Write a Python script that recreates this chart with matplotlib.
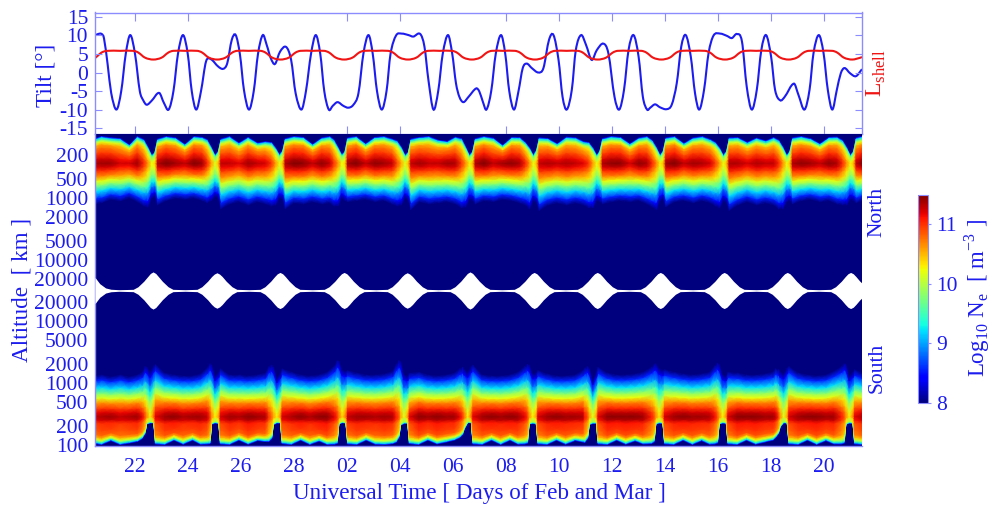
import numpy as np
import matplotlib
matplotlib.use("Agg")
import matplotlib.pyplot as plt
from matplotlib.path import Path
from matplotlib.patches import PathPatch

plt.rcParams['font.family'] = ['Liberation Serif', 'DejaVu Serif']
plt.rcParams['mathtext.fontset'] = 'custom'
plt.rcParams['mathtext.rm'] = 'Liberation Serif'

# -------------------------------
# Data (days counted from 0 Feb)
# -------------------------------
day_ticks = [22, 24, 26, 28, 30, 32, 34, 36, 38, 40, 42, 44, 46, 48]
day_labels = ['22', '24', '26', '28', '02', '04', '06', '08', '10', '12', '14', '16', '18', '20']
top_ticks = [22, 24, 30, 32, 36, 38, 40, 42, 44, 46, 48]

tilt_ticks = [-15, -10, -5, 0, 5, 10, 15]
tilt_labels = ['-15', '-10', '-5', '0', '5', '10', '15']
north_ticks = [200, 500, 1000, 2000, 5000, 10000, 20000]
south_ticks = [20000, 10000, 5000, 2000, 1000, 500, 200, 100]

tilt_days = [
    20.50, 20.62, 20.75, 20.84, 20.98, 21.11, 21.31, 21.49, 21.66, 21.83, 22.01, 22.19, 22.32, 22.45, 22.64,
    22.92, 23.10, 23.28, 23.46, 23.63, 23.82, 24.00, 24.15, 24.32, 24.50, 24.69, 24.87, 25.15, 25.34, 25.49,
    25.66, 25.81, 25.97, 26.12, 26.31, 26.49, 26.65, 26.83, 26.98, 27.13, 27.29, 27.48, 27.71, 27.90, 28.07,
    28.29, 28.46, 28.65, 28.83, 29.00, 29.15, 29.32, 29.47, 29.65, 29.87, 30.06, 30.25, 30.44, 30.63, 30.82,
    30.98, 31.14, 31.32, 31.50, 31.65, 31.86, 32.07, 32.33, 32.51, 32.77, 32.93, 33.08, 33.27, 33.45, 33.62,
    33.82, 33.98, 34.12, 34.25, 34.40, 34.59, 34.88, 35.00, 35.13, 35.27, 35.45, 35.62, 35.82, 35.98, 36.13,
    36.31, 36.48, 36.64, 36.79, 36.98, 37.23, 37.42, 37.63, 37.80, 37.99, 38.14, 38.30, 38.49, 38.64, 38.84,
    39.03, 39.24, 39.43, 39.68, 39.87, 40.10, 40.28, 40.46, 40.63, 40.82, 41.01, 41.17, 41.33, 41.45, 41.63,
    41.82, 42.07, 42.26, 42.45, 42.62, 42.79, 42.98, 43.14, 43.30, 43.48, 43.65, 43.84, 44.09, 44.34, 44.53,
    44.72, 44.91, 45.09, 45.28, 45.47, 45.64, 45.82, 46.01, 46.16, 46.35, 46.52, 46.87, 47.04, 47.27, 47.46,
    47.61, 47.81, 47.99, 48.15, 48.32, 48.49, 48.64, 48.78, 48.99, 49.21, 49.44]
tilt_deg = [
    10.0, 10.4, 10.4, 9.2, 2.0, -5.5, -10.0, -5.0, 5.0, 10.1, 5.0, -5.0, -7.5, -8.7, -7.6,
    -5.5, -8.2, -10.0, -5.0, 5.0, 10.1, 5.0, -5.0, -10.0, -5.0, 3.0, 3.6, 1.6, 1.0, 2.5,
    8.8, 10.1, 4.8, -4.7, -10.0, -5.0, 5.0, 10.1, 7.4, 3.9, 2.3, 5.6, 6.9, 3.4, -5.6,
    -10.0, -5.0, 5.0, 10.1, 5.0, -5.0, -10.0, -9.0, -8.0, -9.0, -9.5, -8.7, -5.6, 5.2, 10.1,
    5.0, -5.0, -10.0, -5.0, 5.0, 10.0, 10.5, 10.1, 9.7, 10.4, 7.0, -2.0, -10.0, -5.0, 5.0,
    10.1, 5.0, -2.9, -6.6, -8.0, -6.6, -4.3, -5.1, -7.8, -10.0, -5.0, 5.0, 10.1, 5.0, -5.0,
    -10.0, -5.0, 1.2, 2.4, 1.2, 0.0, 1.2, 8.8, 10.1, 3.4, -6.5, -10.0, -4.7, 6.0, 10.1,
    7.4, 3.4, 6.0, 7.8, 5.2, -6.5, -10.0, -4.7, 6.0, 10.1, 4.3, -6.5, -10.0, -9.5, -8.6,
    -9.4, -9.9, -8.7, -2.9, 7.0, 10.1, 4.3, -5.6, -10.0, -4.7, 5.2, 10.0, 10.5, 9.9, 9.3,
    10.4, 8.4, -3.8, -10.0, -4.7, 6.0, 10.1, 4.3, -4.7, -7.5, -6.6, -3.0, -6.0, -10.0, -4.7,
    5.2, 10.1, 5.2, -4.7, -10.0, -4.7, -0.2, 1.2, -0.2, -1.0, 0.9]

lshell_days = [
    20.50, 20.60, 20.75, 20.95, 21.45,
    21.95, 22.13, 22.39, 22.70, 23.01, 23.27, 23.45, 23.90,
    24.36, 24.54, 24.80, 25.11, 25.42, 25.68, 25.86, 26.30,
    26.75, 26.93, 27.19, 27.50, 27.81, 28.07, 28.25, 28.70,
    29.15, 29.33, 29.59, 29.90, 30.21, 30.47, 30.65, 31.10,
    31.56, 31.74, 32.00, 32.31, 32.62, 32.88, 33.06, 33.50,
    33.97, 34.15, 34.41, 34.72, 35.03, 35.29, 35.47, 35.90,
    36.35, 36.53, 36.79, 37.10, 37.41, 37.67, 37.85, 38.30,
    38.72, 38.90, 39.16, 39.47, 39.78, 40.04, 40.22, 40.65,
    41.12, 41.30, 41.56, 41.87, 42.18, 42.44, 42.62, 43.05,
    43.52, 43.70, 43.96, 44.27, 44.58, 44.84, 45.02, 45.45,
    45.92, 46.10, 46.36, 46.67, 46.98, 47.24, 47.42, 47.85,
    48.32, 48.50, 48.76, 49.07, 49.38, 49.44]
lshell_val = [
    3.9, 4.5, 5.4, 5.85, 5.85,
    5.85, 5.4, 4.0, 3.5, 4.0, 5.4, 5.85, 5.85,
    5.85, 5.4, 4.0, 3.5, 4.0, 5.4, 5.85, 5.85,
    5.85, 5.4, 4.0, 3.5, 4.0, 5.4, 5.85, 5.85,
    5.85, 5.4, 4.0, 3.5, 4.0, 5.4, 5.85, 5.85,
    5.85, 5.4, 4.0, 3.5, 4.0, 5.4, 5.85, 5.85,
    5.85, 5.4, 4.0, 3.5, 4.0, 5.4, 5.85, 5.85,
    5.85, 5.4, 4.0, 3.5, 4.0, 5.4, 5.85, 5.85,
    5.85, 5.4, 4.0, 3.5, 4.0, 5.4, 5.85, 5.85,
    5.85, 5.4, 4.0, 3.5, 4.0, 5.4, 5.85, 5.85,
    5.85, 5.4, 4.0, 3.5, 4.0, 5.4, 5.85, 5.85,
    5.85, 5.4, 4.0, 3.5, 4.0, 5.4, 5.85, 5.85,
    5.85, 5.4, 4.0, 3.5, 4.0, 4.2]

# northern band: outer edges in km and peak log10 Ne per time
north_days = [
    20.50, 20.75, 21.10, 21.45, 21.80, 22.10,
    22.34, 22.50, 22.64, 22.76, 22.86, 23.19, 23.54, 23.89, 24.24, 24.54,
    24.73, 24.89, 25.03, 25.15, 25.25, 25.58, 25.93, 26.28, 26.63, 26.93,
    27.16, 27.32, 27.46, 27.58, 27.68, 28.01, 28.36, 28.71, 29.06, 29.36,
    29.51, 29.67, 29.81, 29.93, 30.03, 30.36, 30.71, 31.06, 31.41, 31.71,
    31.90, 32.06, 32.20, 32.32, 32.42, 32.75, 33.10, 33.45, 33.80, 34.10,
    34.33, 34.49, 34.63, 34.75, 34.85, 35.18, 35.53, 35.88, 36.23, 36.53,
    36.74, 36.90, 37.04, 37.16, 37.26, 37.59, 37.94, 38.29, 38.64, 38.94,
    39.13, 39.29, 39.43, 39.55, 39.65, 39.98, 40.33, 40.68, 41.03, 41.33,
    41.52, 41.68, 41.82, 41.94, 42.04, 42.37, 42.72, 43.07, 43.42, 43.72,
    43.91, 44.07, 44.21, 44.33, 44.43, 44.76, 45.11, 45.46, 45.81, 46.11,
    46.30, 46.46, 46.60, 46.72, 46.82, 47.15, 47.50, 47.85, 48.20, 48.50,
    48.70, 48.86, 49.00, 49.12, 49.22, 49.44]
north_base_km = [
    108, 100, 105, 108, 138, 100,
    112, 150, 205, 180, 110, 100, 105, 135, 100, 103,
    112, 150, 205, 175, 110, 100, 128, 103, 128, 122,
    125, 155, 200, 170, 108, 100, 103, 135, 105, 100,
    112, 150, 200, 175, 105, 100, 132, 103, 100, 110,
    118, 150, 205, 180, 110, 103, 100, 115, 120, 102,
    108, 150, 205, 175, 108, 100, 106, 140, 103, 104,
    125, 155, 205, 165, 105, 108, 132, 102, 105, 122,
    125, 155, 205, 170, 108, 100, 103, 132, 105, 100,
    115, 150, 205, 170, 105, 100, 130, 105, 100, 112,
    125, 155, 205, 172, 105, 104, 125, 106, 118, 104,
    115, 150, 205, 172, 105, 100, 108, 132, 103, 102,
    115, 150, 205, 172, 105, 100]
north_top_km = [
    1250, 1200, 1050, 1120, 1000, 1150,
    1350, 1400, 1000, 950, 1300, 1100, 1000, 1050, 1000, 1100,
    1200, 1100, 950, 1000, 1500, 1250, 1150, 1300, 1150, 1250,
    1350, 1300, 1000, 1050, 1500, 1200, 1250, 1150, 1250, 1200,
    1350, 1350, 1000, 1100, 1150, 1100, 1050, 1150, 1100, 1250,
    1350, 1300, 1000, 1100, 1550, 1150, 1250, 1200, 1150, 1250,
    1450, 1400, 1050, 1100, 1250, 1100, 1150, 1050, 1100, 1200,
    1300, 1500, 1100, 1200, 1600, 1300, 1200, 1300, 1200, 1300,
    1450, 1450, 1100, 1150, 1250, 1150, 1100, 1150, 1100, 1250,
    1400, 1550, 1100, 1050, 1400, 1150, 1100, 1200, 1100, 1200,
    1350, 1450, 1100, 1200, 1600, 1300, 1150, 1300, 1200, 1300,
    1500, 1500, 1150, 1100, 1250, 1100, 1050, 1150, 1100, 1250,
    1300, 1300, 1050, 1100, 1200, 1100]
north_peak = [
    11.35, 11.4, 11.4, 11.25, 11.25, 11.4,
    11.05, 10.65, 10.25, 10.4, 11.35, 11.5, 11.4, 11.3, 11.5, 11.4,
    11.05, 10.6, 10.2, 10.5, 11.3, 11.3, 11.2, 11.4, 11.3, 11.25,
    11.0, 10.6, 10.25, 10.5, 11.35, 11.5, 11.45, 11.3, 11.45, 11.3,
    11.0, 10.65, 10.25, 10.4, 11.4, 11.5, 11.3, 11.45, 11.4, 11.3,
    10.9, 10.55, 10.2, 10.5, 11.3, 11.4, 11.3, 11.3, 11.4, 11.35,
    11.0, 10.65, 10.3, 10.5, 11.35, 11.5, 11.3, 11.4, 11.45, 11.35,
    11.05, 10.65, 10.25, 10.5, 11.3, 11.35, 11.3, 11.35, 11.3, 11.2,
    11.0, 10.6, 10.25, 10.5, 11.35, 11.45, 11.45, 11.25, 11.45, 11.35,
    11.05, 10.7, 10.3, 10.5, 11.4, 11.5, 11.3, 11.4, 11.35, 11.25,
    10.95, 10.6, 10.25, 10.5, 11.35, 11.35, 11.25, 11.35, 11.3, 11.3,
    11.05, 10.65, 10.25, 10.5, 11.35, 11.45, 11.4, 11.3, 11.45, 11.35,
    11.05, 10.65, 10.3, 10.5, 11.3, 11.5]
north_peak_km = 276

# southern band
south_days = [
    20.50, 20.75, 21.10, 21.45, 21.80, 22.10,
    22.28, 22.39, 22.45, 22.58, 22.72, 22.78, 23.13, 23.48, 23.83, 24.18, 24.48,
    24.73, 24.84, 24.90, 25.03, 25.17, 25.23, 25.58, 25.93, 26.28, 26.63, 26.93,
    27.06, 27.17, 27.23, 27.36, 27.50, 27.56, 27.91, 28.26, 28.61, 28.96, 29.26,
    29.53, 29.64, 29.70, 29.83, 29.97, 30.03, 30.38, 30.73, 31.08, 31.43, 31.73,
    31.86, 31.97, 32.03, 32.16, 32.30, 32.36, 32.71, 33.06, 33.41, 33.76, 34.06,
    34.26, 34.37, 34.43, 34.56, 34.70, 34.76, 35.11, 35.46, 35.81, 36.16, 36.46,
    36.71, 36.82, 36.88, 37.01, 37.15, 37.21, 37.56, 37.91, 38.26, 38.61, 38.91,
    38.98, 39.09, 39.15, 39.28, 39.42, 39.48, 39.83, 40.18, 40.53, 40.88, 41.18,
    41.49, 41.60, 41.66, 41.79, 41.93, 41.99, 42.34, 42.69, 43.04, 43.39, 43.69,
    43.88, 43.99, 44.05, 44.18, 44.32, 44.38, 44.73, 45.08, 45.43, 45.78, 46.08,
    46.18, 46.29, 46.35, 46.48, 46.62, 46.68, 47.03, 47.38, 47.73, 48.08, 48.38,
    48.66, 48.77, 48.83, 48.96, 49.10, 49.16, 49.44]
south_base_km = [
    104, 100, 116, 100, 106, 112,
    125, 150, 215, 226, 225, 102, 100, 118, 101, 118, 101,
    102, 103, 215, 226, 220, 102, 100, 118, 101, 116, 112,
    112, 125, 210, 226, 225, 103, 100, 118, 100, 114, 100,
    101, 104, 215, 228, 222, 102, 100, 118, 101, 100, 103,
    108, 130, 205, 222, 222, 103, 100, 118, 102, 110, 118,
    130, 145, 175, 226, 228, 102, 100, 118, 100, 118, 101,
    102, 105, 215, 222, 218, 102, 100, 118, 101, 116, 110,
    108, 125, 210, 222, 222, 102, 100, 118, 101, 115, 102,
    103, 110, 215, 225, 222, 102, 100, 118, 100, 116, 101,
    102, 106, 215, 225, 222, 102, 100, 118, 101, 110, 118,
    130, 150, 190, 226, 222, 102, 100, 118, 100, 116, 102,
    102, 105, 212, 225, 222, 102, 100]
south_top_km = [
    1300, 1350, 1250, 1350, 1250, 1350,
    1500, 1850, 1800, 1500, 1900, 2000, 1450, 1350, 1300, 1300, 1400,
    1750, 2050, 1950, 1300, 1500, 1700, 1350, 1350, 1300, 1350, 1450,
    1850, 1950, 1800, 1200, 1450, 1700, 1500, 1350, 1300, 1350, 1500,
    1900, 2300, 2250, 1600, 1550, 1600, 1450, 1350, 1350, 1400, 1550,
    2000, 2300, 2200, 1350, 1300, 1450, 1500, 1350, 1300, 1350, 1450,
    1700, 1800, 1650, 1500, 1850, 1950, 1350, 1300, 1300, 1350, 1500,
    1850, 2000, 1950, 1400, 1450, 1600, 1400, 1300, 1300, 1350, 1600,
    1750, 1850, 1700, 1100, 1500, 1800, 1450, 1350, 1350, 1400, 1500,
    1800, 2000, 2050, 1700, 1600, 1650, 1500, 1400, 1350, 1400, 1500,
    1900, 2100, 2000, 1350, 1300, 1500, 1450, 1350, 1350, 1400, 1500,
    1700, 1650, 1500, 1400, 1750, 1850, 1450, 1350, 1300, 1350, 1550,
    1850, 2050, 2000, 1300, 1500, 1650, 1450]
south_peak = [
    11.3, 11.35, 11.4, 11.3, 11.35, 11.4,
    11.2, 10.9, 10.7, 10.3, 10.8, 11.2, 11.4, 11.45, 11.35, 11.4, 11.4,
    11.3, 11.0, 10.7, 10.3, 10.6, 11.25, 11.4, 11.35, 11.45, 11.4, 11.35,
    11.0, 10.8, 10.6, 10.3, 10.7, 11.25, 11.35, 11.45, 11.35, 11.45, 11.45,
    11.2, 11.0, 10.8, 10.4, 10.8, 11.3, 11.4, 11.4, 11.35, 11.4, 11.35,
    11.1, 10.9, 10.6, 10.2, 10.6, 11.2, 11.45, 11.4, 11.45, 11.4, 11.4,
    11.2, 11.0, 10.8, 10.3, 10.8, 11.2, 11.4, 11.45, 11.4, 11.45, 11.4,
    11.2, 11.0, 10.7, 10.3, 10.6, 11.25, 11.4, 11.45, 11.4, 11.4, 11.35,
    11.1, 10.9, 10.6, 10.2, 10.6, 11.2, 11.45, 11.45, 11.45, 11.45, 11.4,
    11.1, 10.9, 10.7, 10.35, 10.8, 11.25, 11.4, 11.45, 11.4, 11.4, 11.35,
    11.15, 10.9, 10.7, 10.3, 10.7, 11.25, 11.45, 11.45, 11.45, 11.4, 11.4,
    11.3, 11.0, 10.7, 10.2, 10.6, 11.25, 11.4, 11.45, 11.45, 11.4, 11.4,
    11.1, 10.9, 10.7, 10.3, 10.7, 11.2, 11.35]
south_peak_km = 286

# density profile across a band: fraction of the way from peak to edge, fraction of the peak
base_frac_n = [0, 0.15, 0.37, 0.55, 0.67, 0.78, 0.85, 0.93, 0.975, 1]
base_shape_n = [1, 0.96, 0.88, 0.82, 0.765, 0.647, 0.52, 0.353, 0.12, 0]
base_frac_s = [0, 0.12, 0.24, 0.50, 0.66, 0.75, 0.83, 0.88, 0.94, 0.98, 1]
base_shape_s = [1, 0.97, 0.90, 0.87, 0.84, 0.765, 0.647, 0.53, 0.353, 0.147, 0]
top_frac = [0, 0.10, 0.20, 0.34, 0.45, 0.56, 0.70, 0.88, 1]
top_shape = [1, 0.956, 0.882, 0.78, 0.647, 0.53, 0.353, 0.162, 0]

# highest field line altitude, above it no data
apex_days = [
    20.50, 20.68, 20.90, 21.10, 21.40,
    21.94, 22.12, 22.34, 22.49, 22.59, 22.69, 22.79, 22.89, 23.04, 23.26, 23.44, 23.90,
    24.35, 24.53, 24.75, 24.90, 25.00, 25.10, 25.20, 25.30, 25.45, 25.67, 25.85, 26.30,
    26.73, 26.91, 27.13, 27.28, 27.38, 27.48, 27.58, 27.68, 27.83, 28.05, 28.23, 28.70,
    29.15, 29.33, 29.55, 29.70, 29.80, 29.90, 30.00, 30.10, 30.25, 30.47, 30.65, 31.10,
    31.53, 31.71, 31.93, 32.08, 32.18, 32.28, 32.38, 32.48, 32.63, 32.85, 33.03, 33.45,
    33.90, 34.08, 34.30, 34.45, 34.55, 34.65, 34.75, 34.85, 35.00, 35.22, 35.40, 35.85,
    36.32, 36.50, 36.72, 36.87, 36.97, 37.07, 37.17, 37.27, 37.42, 37.64, 37.82, 38.25,
    38.70, 38.88, 39.10, 39.25, 39.35, 39.45, 39.55, 39.65, 39.80, 40.02, 40.20, 40.65,
    41.08, 41.26, 41.48, 41.63, 41.73, 41.83, 41.93, 42.03, 42.18, 42.40, 42.58, 43.05,
    43.49, 43.67, 43.89, 44.04, 44.14, 44.24, 44.34, 44.44, 44.59, 44.81, 44.99, 45.45,
    45.87, 46.05, 46.27, 46.42, 46.52, 46.62, 46.72, 46.82, 46.97, 47.19, 47.37, 47.80,
    48.26, 48.44, 48.66, 48.81, 48.91, 49.01, 49.11, 49.21, 49.36, 49.44]
apex_km = [
    19000, 24000, 28100, 29500, 30000,
    29600, 26900, 21900, 18400, 16400, 15500, 16400, 18400, 21900, 26900, 29600, 30000,
    29600, 26900, 21900, 18400, 16800, 16000, 16800, 18400, 21900, 26900, 29600, 30000,
    29600, 26900, 21900, 18400, 16600, 15800, 16600, 18400, 21900, 26900, 29600, 30000,
    29600, 26900, 21900, 18400, 16600, 15800, 16600, 18400, 21900, 26900, 29600, 30000,
    29600, 26900, 21900, 18400, 16800, 16000, 16800, 18400, 21900, 26900, 29600, 30000,
    29600, 26900, 21900, 18400, 16400, 15500, 16400, 18400, 21900, 26900, 29600, 30000,
    29600, 26900, 21900, 18400, 16600, 15800, 16600, 18400, 21900, 26900, 29600, 30000,
    29600, 26900, 21900, 18400, 16600, 15800, 16600, 18400, 21900, 26900, 29600, 30000,
    29600, 26900, 21900, 18400, 16600, 15800, 16600, 18400, 21900, 26900, 29600, 30000,
    29600, 26900, 21900, 18400, 16600, 15800, 16600, 18400, 21900, 26900, 29600, 30000,
    29600, 26900, 21900, 18400, 16600, 15800, 16600, 18400, 21900, 26900, 29600, 30000,
    29600, 26900, 21900, 18400, 16600, 15800, 16600, 18400, 21900, 23500]

# -------------------------------
# Layout, in pixels of the 1005x505 figure
# -------------------------------
FIG_W, FIG_H = 1005, 505
BLUE = '#1c1cf0'
EDGE = '#8c8cff'
RED = '#f01414'
APEX_LOG = 4.49
T_START, T_END = 20.5, 49.44


def px_axes(left, top, right, bottom):
    return [left / FIG_W, 1 - bottom / FIG_H, (right - left) / FIG_W, (bottom - top) / FIG_H]


def north_y(km):
    return APEX_LOG - np.log10(km)


def south_y(km):
    return np.log10(km) - APEX_LOG


def smooth_line(days, vals):
    # cubic segments through the read points, so the curve stays round
    x = np.asarray(days, float)
    y = np.asarray(vals, float)
    slope = np.gradient(y, x)
    slope[1:-1] = (y[2:] - y[:-2]) / (x[2:] - x[:-2])
    verts = [(x[0], y[0])]
    codes = [Path.MOVETO]
    for i in range(len(x) - 1):
        h = (x[i + 1] - x[i]) / 3
        verts += [(x[i] + h, y[i] + slope[i] * h), (x[i + 1] - h, y[i + 1] - slope[i + 1] * h), (x[i + 1], y[i + 1])]
        codes += [Path.CURVE4, Path.CURVE4, Path.CURVE4]
    return Path(verts, codes)


def band_mesh(days, base_km, top_km, peak, peak_km, to_y, base_frac, base_shape):
    # rows run from the 100 km side over the peak to the apex side
    t = np.asarray(days, float)
    base = to_y(np.asarray(base_km, float))
    top = to_y(np.asarray(top_km, float))
    mid = to_y(np.full_like(t, peak_km))
    rows_y = []
    rows_c = []
    pk = np.asarray(peak, float)
    for f, s in reversed(list(zip(base_frac, base_shape))):
        rows_y.append(mid + (base - mid) * f)
        rows_c.append(8 + (pk - 8) * s)
    for f, s in list(zip(top_frac, top_shape))[1:]:
        rows_y.append(mid + (top - mid) * f)
        rows_c.append(8 + (pk - 8) * s)
    yy = np.array(rows_y)
    cc = np.array(rows_c)
    xx = np.tile(t, (yy.shape[0], 1))
    return xx, yy, cc


fig = plt.figure(figsize=(FIG_W / 100, FIG_H / 100), dpi=100)

# -------------------------------
# Tilt and L shell
# -------------------------------
ax_top = fig.add_axes(px_axes(95, 12.5, 862, 134))
ax_top.set_xlim(T_START, T_END)
ax_top.set_ylim(-16.6, 16.2)
ax_top.add_patch(PathPatch(smooth_line(tilt_days, tilt_deg), fill=False, edgecolor=BLUE, lw=1.5))
ax_top.add_patch(PathPatch(smooth_line(lshell_days, lshell_val), fill=False, edgecolor=RED, lw=1.5))
ax_top.set_xticks(top_ticks)
ax_top.set_xticklabels([])
ax_top.set_yticks(tilt_ticks)
ax_top.set_yticklabels(tilt_labels)
ax_top.tick_params(axis='x', direction='in', top=True, bottom=True, length=5.5, width=0.8, color=EDGE)
ax_top.tick_params(axis='y', direction='in', left=True, right=True, length=5, width=0.8, color=EDGE,
                   labelsize=15.5, labelcolor=BLUE, pad=5)
for s in ax_top.spines.values():
    s.set_color(EDGE)
    s.set_linewidth(1.0)

# -------------------------------
# Electron density
# -------------------------------
ax = fig.add_axes(px_axes(95, 134, 862, 446))
ax.set_facecolor('#00007f')
ax.set_xlim(T_START, T_END)
ax.set_ylim(-2.508, 2.524)

for mesh in (band_mesh(north_days, north_base_km, north_top_km, north_peak, north_peak_km, north_y, base_frac_n, base_shape_n),
             band_mesh(south_days, south_base_km, south_top_km, south_peak, south_peak_km, south_y, base_frac_s, base_shape_s)):
    pm = ax.pcolormesh(mesh[0], mesh[1], mesh[2], cmap='jet', vmin=8, vmax=11.5, shading='gouraud', rasterized=True)

apex_y = north_y(np.array(apex_km, float))
ax.fill_between(apex_days, -apex_y, apex_y, color='white', lw=0, zorder=3)

ax.set_xticks(day_ticks)
ax.set_xticklabels(day_labels)
ax.set_yticks([north_y(k) for k in north_ticks] + [south_y(k) for k in south_ticks])
ax.set_yticklabels([str(k) for k in north_ticks] + [str(k) for k in south_ticks])
ax.tick_params(axis='both', length=0, labelsize=15.5, labelcolor=BLUE)
ax.tick_params(axis='x', pad=9)
ax.tick_params(axis='y', pad=5)
for s in ax.spines.values():
    s.set_color(EDGE)
    s.set_linewidth(1.0)
ax.spines['top'].set_visible(False)
ax.spines['right'].set_visible(False)

# -------------------------------
# Colour bar
# -------------------------------
cax = fig.add_axes(px_axes(918, 194.7, 927.7, 402.7))
cb = fig.colorbar(pm, cax=cax)
cb.set_ticks([8, 9, 10, 11])
cb.set_ticklabels(['8', '9', '10', '11'])
cb.ax.tick_params(length=2, width=0.8, color=EDGE, labelsize=15.5, labelcolor=BLUE, pad=4)
cb.outline.set_edgecolor(EDGE)
cb.outline.set_linewidth(0.8)

# -------------------------------
# Labels
# -------------------------------
def label(x, y, txt, color=BLUE, size=16.7, rot=90):
    fig.text(x / FIG_W, 1 - y / FIG_H, txt, color=color, fontsize=size, rotation=rot, ha='center', va='center')


label(46, 75, 'Tilt [\u00b0]')
label(22, 290, 'Altitude  [ km ]')
label(479, 493, 'Universal Time [ Days of Feb and Mar ]', rot=0)
label(876, 73, r'L$_{\mathrm{shell}}$', color=RED, size=17)
label(877, 212, 'North', size=15.5)
label(877, 368, 'South', size=15.5)
label(977, 298, r'Log$_{\mathrm{10}}$ N$_{\mathrm{e}}$  [ m$^{\mathrm{-3}}$ ]', size=16.5)

plt.savefig("out.png", dpi=100)
